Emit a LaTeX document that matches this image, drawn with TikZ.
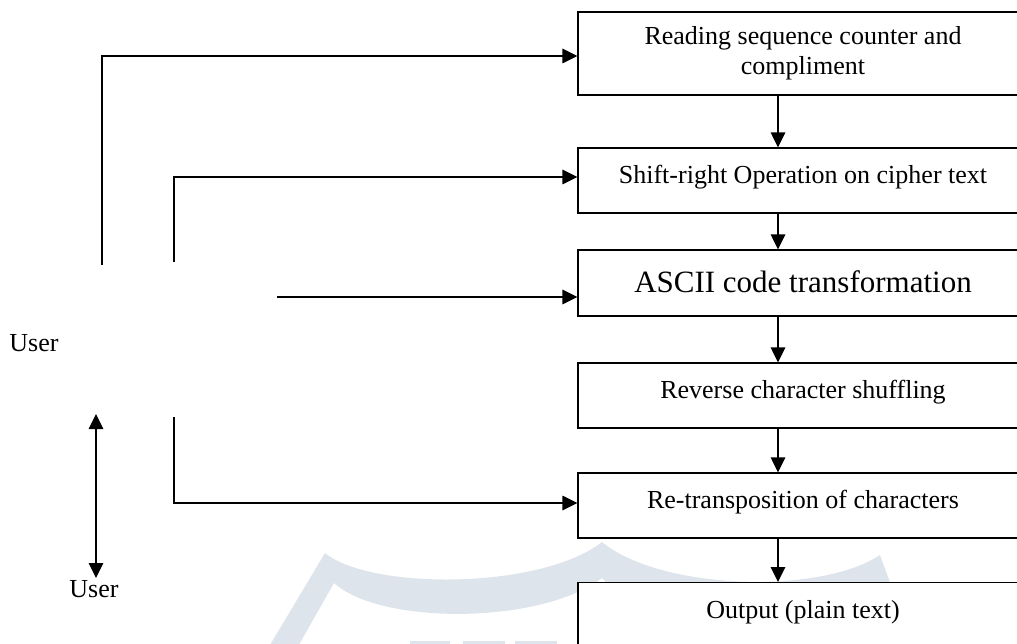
\documentclass[tikz,border=0pt]{standalone}
\usepackage{fontspec}
\setmainfont{Liberation Serif}
\usetikzlibrary{arrows.meta}
\definecolor{wm}{RGB}{222,228,235}
\begin{document}
\begin{tikzpicture}[x=1pt,y=-1pt,
  box/.style={draw, line width=1.2pt, fill=white, minimum width=450pt, inner sep=0pt, align=center, font=\fontsize{26}{30}\selectfont},
  oneline/.style={text height=16pt, text depth=10pt},
  conn/.style={line width=1.3pt, -{Triangle[length=15pt,width=14.5pt]}},
  lbl/.style={font=\fontsize{26}{30}\selectfont, inner sep=0pt}]
\useasboundingbox (0,0) rectangle (1017,644);
\clip (0,0) rectangle (1017,644);
% faint watermark
\fill[wm] (267,650) -- (325,553) .. controls (370,590) and (540,590) .. (602,542)
  .. controls (660,590) and (820,595) .. (880,555) -- (915,650) -- (880,650)
  -- (866,600) .. controls (800,640) and (660,640) .. (602,578)
  .. controls (540,625) and (380,625) .. (334,583) -- (296,650) -- cycle;
\fill[wm] (410,641) rectangle (450,650);
\fill[wm] (463,641) rectangle (505,650);
\fill[wm] (515,641) rectangle (557,650);
% boxes
\node[box, minimum height=83pt] (b1) at (803,53.5) {Reading sequence counter and\\compliment};
\node[box, oneline, minimum height=65pt] (b2) at (803,180.5) {Shift-right Operation on cipher text};
\node[box, minimum height=66pt, text height=20pt, text depth=2pt, font=\fontsize{31}{36}\selectfont] (b3) at (803,283) {ASCII code transformation};
\node[box, oneline, minimum height=65pt] (b4) at (803,395.5) {Reverse character shuffling};
\node[box, oneline, minimum height=65pt] (b5) at (803,505.5) {Re-transposition of characters};
\node[box, anchor=north, text height=36pt, text depth=40pt] (b6) at (803,582) {Output (plain text)};
% labels
\node[lbl] (user1) at (34,343.5) {User};
\node[lbl] (user2) at (94,589.4) {User};
% vertical flow arrows
\draw[conn] ([xshift=-25pt]b1.south) -- ([xshift=-25pt]b2.north);
\draw[conn] ([xshift=-25pt]b2.south) -- ([xshift=-25pt]b3.north);
\draw[conn] ([xshift=-25pt]b3.south) -- ([xshift=-25pt]b4.north);
\draw[conn] ([xshift=-25pt]b4.south) -- ([xshift=-25pt]b5.north);
\draw[conn] ([xshift=-25pt]b5.south) -- ([xshift=-25pt]b6.north);
% feeds from the user side
\coordinate (u1) at (102,265);
\coordinate (u2) at (174,262);
\coordinate (u3) at (277,297);
\coordinate (u4) at (174,417);
\draw[conn] (u1) |- ([yshift=-2.5pt]b1.west);
\draw[conn] (u2) |- ([yshift=3.5pt]b2.west);
\draw[conn] (u3) -- (u3 -| b3.west);
\draw[conn] (u4) |- ([yshift=2.5pt]b5.west);
% double arrow between users
\coordinate (d1) at (96,414);
\coordinate (d2) at (96,578);
\draw[line width=1.3pt, {Triangle[length=15pt,width=14.5pt]}-{Triangle[length=15pt,width=14.5pt]}] (d1) -- (d2);
\end{tikzpicture}
\end{document}
